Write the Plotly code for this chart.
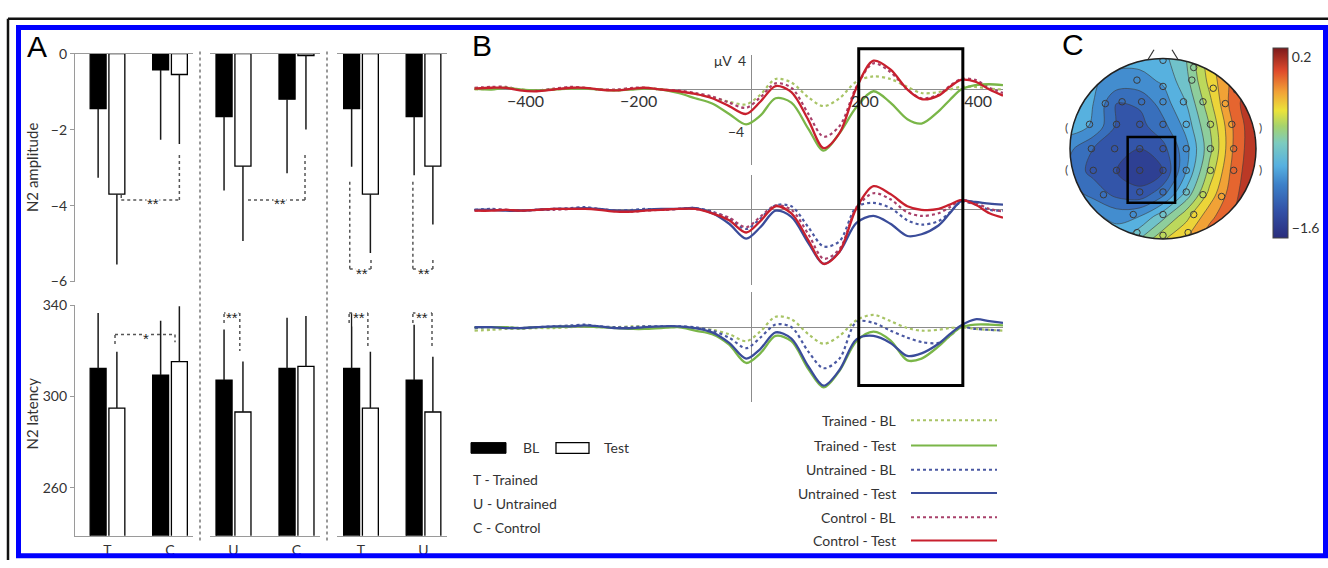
import plotly.graph_objects as go

W, H = 1328, 568
def px(x): return x / W
def py(y): return 1 - y / H

FONT = "Lato"
TXT = "#333333"
AXC = "#9a9a9a"

# ---------------- Panel A data ----------------
amp_cats = [["T", "C"], ["U", "C"], ["T", "U"]]
amp_bl = [[-1.45, -0.43], [-1.66, -1.20], [-1.45, -1.66]]
amp_bl_err = [[1.82, 1.84], [1.94, 1.95], [1.53, 1.54]]
amp_test = [[-3.70, -0.55], [-2.96, -0.05], [-3.70, -2.96]]
amp_test_err = [[1.85, 1.83], [1.97, 1.95], [1.55, 1.54]]
lat_bl = [[312.3, 309.4], [307.2, 312.3], [312.3, 307.2]]
lat_bl_err = [[24.3, 23.8], [22.2, 22.2], [24.3, 24.3]]
lat_test = [[294.9, 315.3], [293.2, 313.2], [294.9, 293.2]]
lat_test_err = [[24.7, 24.3], [22.1, 22.1], [24.7, 24.2]]
amp_ticks = [0, -2, -4, -6]
lat_ticks = [260, 300, 340]

# ---------------- Panel B data ----------------
t_ms = [-490, -460, -435, -410, -380, -350, -320, -295, -270, -240, -210, -190, -160, -130,
        -100, -70, -40, -10, 15, 42, 70, 100, 127, 155, 185, 215, 245, 275, 300, 330, 350,
        370, 395, 420, 444]
b_ticks = [-400, -200, 200, 400]

r1_trained_bl = [0.0, 0.1, 0.2, 0.0, -0.1, 0.0, 0.1, 0.2, 0.0, -0.1, 0.1, 0.2,
                 0.0, -0.2, -0.5, -0.9, -1.4, -1.7, -0.6, 1.2, 0.8, -0.9, -1.9, -1.0, 0.9, 1.5,
                 1.2, 0.3, -0.4, -0.3, 0.0, 0.3, 0.3, 0.1, 0.0]
r1_trained_test = [0.1, 0.0, 0.2, 0.0, -0.1, 0.0, 0.1, 0.1, 0.0, -0.1, 0.0, 0.1,
                   0.0, -0.4, -1.0, -1.6, -2.8, -4.0, -3.0, -1.0, -1.5, -4.5, -7.0, -5.0, -2.0,
                   -0.2, -1.5, -3.4, -3.9, -2.5, -1.2, 0.0, 0.5, 0.6, 0.5]
r1_control_bl = [0.2, 0.3, 0.3, 0.0, -0.1, 0.1, 0.3, 0.2, 0.0, 0.0, 0.2, 0.2,
                 0.0, -0.1, -0.4, -0.8, -1.5, -2.1, -0.9, 0.7, 0.2, -2.8, -5.4, -4.2, 0.3, 3.0,
                 2.0, 0.0, -1.0, -0.6, 0.4, 1.2, 1.1, 0.2, -0.4]
r1_control_test = [0.1, 0.2, 0.2, -0.1, -0.2, 0.0, 0.2, 0.2, 0.0, -0.1, 0.1, 0.2,
                   0.0, -0.2, -0.5, -1.0, -1.9, -2.8, -1.4, 0.4, -0.3, -3.5, -6.7, -5.0, 0.2,
                   3.3, 2.3, 0.0, -1.1, -0.7, 0.3, 1.1, 0.9, 0.0, -0.7]

r2_untrained_bl = [0.0, 0.1, 0.0, -0.1, 0.0, 0.1, 0.2, 0.3, 0.1, -0.1, 0.0, 0.1, 0.0, 0.1,
                   0.2, -0.2, -1.0, -2.2, -1.0, 0.5, 0.4, -2.0, -4.2, -3.6, 0.3, 0.8, 0.2,
                   -1.2, -1.7, -1.3, -0.3, 0.9, 0.6, 0.0, -0.1]
r2_untrained_test = [0.0, 0.0, -0.1, -0.1, 0.0, 0.1, 0.1, 0.2, 0.1, -0.1, -0.1, 0.0, 0.1, 0.1,
                     0.2, -0.4, -1.6, -3.3, -2.0, -0.1, -0.8, -3.8, -6.2, -4.8, -1.5, -0.7,
                     -1.6, -3.0, -2.8, -1.8, -0.4, 1.0, 0.9, 0.7, 0.6]
r2_control_bl = [-0.1, 0.0, 0.0, -0.1, 0.0, 0.0, 0.1, 0.2, 0.1, -0.1, -0.2, -0.1, 0.0, 0.1,
                 0.1, -0.3, -0.9, -2.0, -0.8, 0.5, 0.0, -2.8, -5.6, -4.5, 0.2, 1.9, 1.2,
                 -0.3, -0.7, -0.4, 0.3, 1.1, 0.8, 0.1, -0.2]
r2_control_test = [-0.1, -0.1, 0.0, -0.1, 0.0, 0.1, 0.1, 0.1, 0.0, -0.2, -0.2, -0.1, 0.0, 0.1,
                   0.1, -0.4, -1.2, -2.6, -1.3, 0.4, -0.4, -3.5, -6.2, -4.8, 0.2, 2.7, 1.8,
                   0.4, 0.0, 0.1, 0.6, 1.1, 0.6, -0.4, -0.9]

r3_trained_bl = [-0.4, -0.3, -0.2, -0.2, -0.1, -0.1, 0.0, 0.1, 0.0, 0.0, 0.1, 0.1, 0.0, 0.0,
                 -0.1, -0.3, -0.8, -1.6, -0.5, 1.2, 0.9, -0.8, -1.9, -1.0, 0.8, 1.4, 0.7,
                 -0.1, -0.4, -0.3, -0.1, 0.0, -0.2, -0.3, -0.4]
r3_trained_test = [0.0, 0.0, 0.0, -0.1, 0.0, 0.0, 0.1, 0.1, 0.0, -0.1, -0.2, -0.2, -0.1, 0.0,
                   -0.4, -0.8, -2.0, -4.1, -3.0, -1.0, -1.6, -4.8, -6.9, -5.0, -1.6, -0.5,
                   -1.5, -3.8, -3.6, -2.2, -1.0, 0.0, 0.3, 0.3, 0.2]
r3_untrained_bl = [-0.1, 0.0, 0.0, -0.1, 0.0, 0.1, 0.2, 0.3, 0.1, 0.0, 0.0, 0.1, 0.1, 0.1,
                   0.0, -0.4, -1.2, -2.4, -1.2, 0.3, 0.0, -2.8, -4.7, -3.6, 0.6, 0.5, -0.4,
                   -1.2, -1.7, -1.8, -1.0, 0.0, -0.2, -0.3, -0.4]
r3_untrained_test = [0.0, 0.0, -0.1, -0.1, 0.0, 0.1, 0.1, 0.2, 0.1, -0.1, -0.1, 0.0, 0.1, 0.1,
                     -0.1, -0.6, -1.8, -3.6, -2.5, -0.6, -1.3, -4.5, -6.7, -4.9, -1.4, -1.0,
                     -1.8, -3.3, -3.0, -1.9, -0.8, 0.2, 0.9, 0.7, 0.5]

legend_names = ["Trained - BL", "Trained - Test", "Untrained - BL", "Untrained - Test",
                "Control - BL", "Control - Test"]

# ---------------- Panel C data ----------------
topo_x = [-1, -0.75, -0.5, -0.25, 0, 0.25, 0.5, 0.75, 1]
topo_y = [-1, -0.75, -0.5, -0.25, 0, 0.25, 0.5, 0.75, 1]
topo_z = [
    [-0.92, -0.92, -0.90, -0.70, -0.42, -0.25, 0.00, 0.10, 0.20],
    [-0.95, -0.97, -1.05, -1.00, -0.75, -0.45, -0.15, 0.05, 0.20],
    [-1.08, -1.20, -1.35, -1.40, -1.20, -0.80, -0.35, 0.00, 0.20],
    [-1.20, -1.35, -1.45, -1.55, -1.45, -1.00, -0.50, -0.05, 0.20],
    [-1.12, -1.30, -1.40, -1.45, -1.35, -1.05, -0.60, -0.10, 0.20],
    [-0.92, -1.02, -1.32, -1.35, -1.20, -0.95, -0.55, -0.10, 0.20],
    [-0.90, -1.00, -1.30, -1.28, -1.08, -0.85, -0.45, -0.02, 0.20],
    [-0.95, -0.98, -1.05, -1.05, -0.98, -0.75, -0.35, -0.05, 0.15],
    [-0.95, -0.95, -0.95, -0.95, -0.90, -0.70, -0.30, 0.00, 0.20],
]
elec_x = [0.0, -0.59, 0.33, 0.60, -0.82, -0.28, 0.0, 0.31, 0.54, 0.79,
          -0.62, -0.44, -0.23, 0.0, 0.22, 0.43, 0.67,
          -0.79, -0.50, -0.25, 0.0, 0.25, 0.51, 0.74,
          -0.77, -0.52, -0.25, 0.0, 0.25, 0.51, 0.76,
          -0.75, -0.50, -0.25, 0.0, 0.25, 0.51, 0.76,
          -0.64, -0.25, 0.0, 0.25, 0.43, 0.63,
          -0.32, 0.0, 0.33, -0.28, 0.0, 0.27]
elec_y = [0.98, 0.86, 0.90, 0.86, 0.65, 0.76, 0.69, 0.76, 0.67, 0.65,
          0.50, 0.52, 0.52, 0.52, 0.52, 0.52, 0.50,
          0.27, 0.27, 0.27, 0.27, 0.27, 0.27, 0.27,
          0.0, 0.0, 0.0, 0.0, 0.0, 0.0, 0.0,
          -0.24, -0.24, -0.24, -0.24, -0.24, -0.24, -0.24,
          -0.51, -0.48, -0.48, -0.48, -0.51, -0.53,
          -0.73, -0.73, -0.73, -0.93, -0.96, -0.93]
cb_ticks = [0.2, -1.6]
cb_ticktext = ["0.2", "\u22121.6"]

jet = [[0.0, "#2a2d7c"], [0.14, "#3250a6"], [0.28, "#3c80c8"], [0.38, "#56b0e0"],
       [0.50, "#7ccbbf"], [0.59, "#a6d36c"], [0.67, "#ebe33a"], [0.77, "#f1a136"],
       [0.88, "#df4a2c"], [1.0, "#7c1a1c"]]

fig = go.Figure()
layout = dict(width=W, height=H, margin=dict(l=0, r=0, t=0, b=0),
              paper_bgcolor="white", plot_bgcolor="white", showlegend=False,
              barmode="group", bargap=0.4, bargroupgap=0.15,
              font=dict(family=FONT, color=TXT))
shapes, anns = [], []

def ax(i):
    return "" if i == 1 else str(i)

# ---------------- Panel A ----------------
g_dom = [(75, 193), (210, 320), (337, 447)]
g_rng = [(-0.52, 1.368), (-0.373, 1.373), (-0.384, 1.376)]
TOP_PX, AMP_RANGE = (46, 281), (-6, 0)
BOT_PX, LAT_RANGE = (305, 543), (238.9, 340.2)
err_style = dict(color="#1a1a1a", thickness=1.5, width=0)
for g in range(3):
    it, ib = g + 1, g + 4
    cats = amp_cats[g]
    for vals, errs, col in [(amp_bl[g], amp_bl_err[g], "black"), (amp_test[g], amp_test_err[g], "white")]:
        fig.add_trace(go.Bar(x=cats, y=vals, xaxis="x" + ax(it), yaxis="y" + ax(it),
                             marker=dict(color=col, line=dict(color="black", width=1.3)),
                             error_y=dict(type="data", symmetric=False, array=[0] * len(vals),
                                          arrayminus=errs, **err_style)))
    for vals, errs, col in [(lat_bl[g], lat_bl_err[g], "black"), (lat_test[g], lat_test_err[g], "white")]:
        fig.add_trace(go.Bar(x=cats, y=vals, xaxis="x" + ax(ib), yaxis="y" + ax(ib),
                             marker=dict(color=col, line=dict(color="black", width=1.3)),
                             error_y=dict(type="data", symmetric=False, array=errs,
                                          arrayminus=[0] * len(vals), **err_style)))
    common_x = dict(domain=[px(g_dom[g][0]), px(g_dom[g][1])], range=list(g_rng[g]),
                    type="category", categoryorder="array", categoryarray=cats,
                    showline=True, linecolor=AXC, linewidth=1.2, showgrid=False,
                    zeroline=False, fixedrange=True)
    layout["xaxis" + ax(it)] = dict(common_x, anchor="y" + ax(it), side="top", showticklabels=False,
                                   ticks="")
    layout["xaxis" + ax(ib)] = dict(common_x, anchor="y" + ax(ib), side="bottom",
                                   ticks="outside", ticklen=1, tickcolor="rgba(0,0,0,0)",
                                   tickfont=dict(size=14, color=TXT))
    ytop = dict(domain=[py(TOP_PX[1]), py(TOP_PX[0])], range=list(AMP_RANGE), anchor="x" + ax(it),
                showgrid=False, zeroline=False)
    ybot = dict(domain=[py(BOT_PX[1]), py(BOT_PX[0])], range=list(LAT_RANGE), anchor="x" + ax(ib),
                showgrid=False, zeroline=False)
    if g == 0:
        yext = dict(showline=True, linecolor=AXC, linewidth=1.2, ticks="outside", ticklen=4,
                    tickcolor=AXC, tickfont=dict(size=14, color=TXT))
        ytop.update(yext, tickvals=amp_ticks)
        ybot.update(yext, tickvals=lat_ticks)
    else:
        ytop.update(visible=False)
        ybot.update(visible=False)
    layout["yaxis" + ax(it)] = ytop
    layout["yaxis" + ax(ib)] = ybot

# helpers converting axis values to paper positions (for text labels)
def cat_paper(g, v):
    L, R = g_dom[g]; a, b = g_rng[g]
    return px(L + (v - a) / (b - a) * (R - L))
def val_paper(v, pxr, rng):
    top, bot = pxr; lo, hi = rng
    return py(top + (hi - v) / (hi - lo) * (bot - top))

dot = dict(color="#555555", width=1.5, dash="dot")
def seg(axi, x0, y0, x1, y1):
    shapes.append(dict(type="line", xref="x" + ax(axi), yref="y" + ax(axi),
                       x0=x0, y0=y0, x1=x1, y1=y1, line=dot))
def star(g, top, x, y, s):
    pxr, rng = (TOP_PX, AMP_RANGE) if top else (BOT_PX, LAT_RANGE)
    anns.append(dict(text=s, x=cat_paper(g, x), y=val_paper(y, pxr, rng), xref="paper", yref="paper",
                     showarrow=False, xanchor="center", yanchor="middle",
                     font=dict(size=15, color="#222222", family="Liberation Sans"),
                     bgcolor="white", yshift=-4, borderpad=0))

# amplitude brackets
seg(1, 0.22, -3.72, 0.22, -3.85); seg(1, 0.22, -3.85, 1.15, -3.85); seg(1, 1.15, -3.85, 1.15, -2.6)
star(0, True, 0.73, -3.85, "**")
seg(2, 0.23, -3.85, 1.135, -3.85); seg(2, 1.135, -3.85, 1.135, -2.6)
star(1, True, 0.74, -3.85, "**")
for xl, xr in [(-0.18, 0.16), (0.83, 1.15)]:
    seg(3, xl, -3.37, xl, -5.67); seg(3, xl, -5.67, xr, -5.67); seg(3, xr, -5.67, xr, -5.4)
    star(2, True, (xl + xr) / 2 + 0.02, -5.67, "**")
# latency brackets
seg(4, 0.12, 323.0, 0.12, 327.2); seg(4, 0.12, 327.2, 1.08, 327.2); seg(4, 1.08, 327.2, 1.08, 323.8)
star(0, False, 0.62, 327.2, "*")
seg(5, -0.15, 332.3, -0.15, 336.6); seg(5, -0.15, 336.6, 0.10, 336.6); seg(5, 0.10, 336.6, 0.10, 320.0)
star(1, False, -0.02, 336.6, "**")
for xl, xr in [(-0.19, 0.11), (0.83, 1.136)]:
    seg(6, xl, 332.3, xl, 336.6); seg(6, xl, 336.6, xr, 336.6); seg(6, xr, 336.6, xr, 321.0)
    star(2, False, (xl + xr) / 2, 336.6, "**")

# group dividers
for xd in (200, 327):
    shapes.append(dict(type="line", xref="paper", yref="paper", x0=px(xd), x1=px(xd),
                       y0=py(548), y1=py(42), line=dict(color="#777777", width=1.5, dash="dot")))

def ann(text, x, y, size=14, xanchor="center", angle=0, color=TXT, family=FONT):
    anns.append(dict(text=text, x=px(x), y=py(y), xref="paper", yref="paper", showarrow=False,
                     xanchor=xanchor, yanchor="middle", textangle=angle,
                     font=dict(size=size, color=color, family=family)))

ann("N2 amplitude", 32, 164, size=15, angle=-90)
ann("N2 latency", 32, 417, size=15, angle=-90)
ann("A", 37, 39, size=30, color="black", family="Liberation Sans")
ann("B", 482, 38, size=30, color="black", family="Liberation Sans")
ann("C", 1073, 37, size=30, color="black", family="Liberation Sans")

# A legend
shapes.append(dict(type="rect", xref="paper", yref="paper", x0=px(471), x1=px(506), y0=py(458), y1=py(447),
                   fillcolor="black", line=dict(color="black", width=1)))
shapes.append(dict(type="rect", xref="paper", yref="paper", x0=px(556), x1=px(589), y0=py(458), y1=py(447),
                   fillcolor="white", line=dict(color="black", width=1.3)))
ann("BL", 521, 452, xanchor="left")
ann("Test", 602, 452, xanchor="left")
ann("T - Trained", 471, 485, xanchor="left")
ann("U - Untrained", 471, 510, xanchor="left")
ann("C - Control", 471, 535, xanchor="left")

# ---------------- Panel B ----------------
GREEN_D, GREEN = "#a8c466", "#7ab648"
BLUE_D, BLUE = "#4a58a2", "#3a4c9a"
RED_D, RED = "#a8406a", "#c8202e"
rows = [
    [(r1_trained_bl, GREEN_D, "dot"), (r1_control_bl, RED_D, "dot"),
     (r1_trained_test, GREEN, "solid"), (r1_control_test, RED, "solid")],
    [(r2_untrained_bl, BLUE_D, "dot"), (r2_control_bl, RED_D, "dot"),
     (r2_untrained_test, BLUE, "solid"), (r2_control_test, RED, "solid")],
    [(r3_trained_bl, GREEN_D, "dot"), (r3_untrained_bl, BLUE_D, "dot"),
     (r3_trained_test, GREEN, "solid"), (r3_untrained_test, BLUE, "solid")],
]
row_dom = [(47, 160.4), (171, 284.4), (292, 405.4)]
for r in range(3):
    i = 7 + r
    for vals, col, dash in rows[r]:
        fig.add_trace(go.Scatter(x=t_ms, y=vals, xaxis="x" + ax(i), yaxis="y" + ax(i), mode="lines",
                                 line=dict(color=col, width=2.3 if dash == "solid" else 2.2,
                                           dash=dash, shape="spline", smoothing=0.9),
                                 hoverinfo="skip"))
    xa = dict(domain=[px(474), px(1003)], range=[-491, 444], showgrid=False, showline=False,
              zeroline=True, zerolinecolor="#8c8c8c", zerolinewidth=1, fixedrange=True)
    if r == 0:
        xa.update(anchor="free", position=py(83), tickvals=b_ticks, ticks="",
                  tickfont=dict(size=16, color=TXT))
    else:
        xa.update(anchor="y" + ax(i), showticklabels=False, ticks="")
    layout["xaxis" + ax(i)] = xa
    layout["yaxis" + ax(i)] = dict(domain=[py(row_dom[r][1]), py(row_dom[r][0])], range=[-8.6, 4],
                                   anchor="x" + ax(i), showgrid=False, showline=False,
                                   showticklabels=False, ticks="", zeroline=True,
                                   zerolinecolor="#8c8c8c", zerolinewidth=1, fixedrange=True)

shapes.append(dict(type="rect", xref="x7", yref="paper", x0=189, x1=373, y0=py(388), y1=py(41),
                   line=dict(color="black", width=3)))
ann("\u03bcV", 723, 53)
ann("4", 742, 53)
ann("\u22124", 746, 126, xanchor="right")

# B legend
leg_y = [424, 450, 475, 499, 524, 548]
leg_style = [(GREEN_D, "dot"), (GREEN, "solid"), (BLUE_D, "dot"), (BLUE, "solid"), (RED_D, "dot"), (RED, "solid")]
for name, yy, (col, dash) in zip(legend_names, leg_y, leg_style):
    ann(name, 898, yy, xanchor="right")
    shapes.append(dict(type="line", xref="paper", yref="paper", x0=px(911), x1=px(997),
                       y0=py(yy), y1=py(yy), line=dict(color=col, width=2, dash=dash)))

# ---------------- Panel C ----------------
fig.add_trace(go.Contour(x=topo_x, y=topo_y, z=topo_z, xaxis="x10", yaxis="y10",
                         colorscale=jet, zmin=-1.7, zmax=0.3, showscale=False,
                         contours=dict(start=-1.6, end=0.2, size=0.15, coloring="fill"),
                         line=dict(color="#3a3a3a", width=0.6, smoothing=1.0), hoverinfo="skip"))
fig.add_trace(go.Scatter(x=elec_x, y=elec_y, xaxis="x10", yaxis="y10", mode="markers",
                         marker=dict(symbol="circle-open", size=6.5, color="#3a3a3a", line=dict(width=1)),
                         hoverinfo="skip"))
fig.add_trace(go.Scatter(x=[None], y=[None], xaxis="x10", yaxis="y10", mode="markers",
                         marker=dict(color=[0], colorscale=jet, cmin=-1.7, cmax=0.3, showscale=True,
                                     colorbar=dict(x=px(1273), xanchor="left", y=py(138), yanchor="middle",
                                                   len=190, lenmode="pixels", thickness=15,
                                                   thicknessmode="pixels", outlinewidth=1,
                                                   outlinecolor="#444444", tickvals=cb_ticks,
                                                   ticktext=cb_ticktext, ticks="", xpad=0, ypad=0,
                                                   tickfont=dict(size=14, color=TXT))),
                         hoverinfo="skip"))
HR = 1.04   # axis half-range; head radius is 1 (93 px)
cx, cy, rad = 1163, 144, 93
layout["xaxis10"] = dict(domain=[px(cx - HR * rad), px(cx + HR * rad)], range=[-HR, HR],
                         visible=False, anchor="y10")
layout["yaxis10"] = dict(domain=[py(cy + HR * rad), py(cy - HR * rad)], range=[-HR, HR],
                         visible=False, anchor="x10")

k = 0.5523
circle = (f"M 1,0 C 1,{k} {k},1 0,1 C {-k},1 -1,{k} -1,0 "
          f"C -1,{-k} {-k},-1 0,-1 C {k},-1 1,{-k} 1,0 Z")
mask = f"M {-HR},{-HR} L {HR},{-HR} L {HR},{HR} L {-HR},{HR} Z " + circle
shapes.append(dict(type="path", path=mask, xref="x10", yref="y10", fillcolor="white",
                   fillrule="evenodd", line=dict(width=0)))
shapes.append(dict(type="circle", xref="x10", yref="y10", x0=-1, x1=1, y0=-1, y1=1,
                   line=dict(color="#222222", width=1.5)))
shapes.append(dict(type="rect", xref="x10", yref="y10", x0=-0.38, x1=0.13, y0=-0.60, y1=0.13,
                   line=dict(color="black", width=2.5)))
# nose and ear marks
shapes.append(dict(type="line", xref="paper", yref="paper", x0=px(1148), x1=px(1154), y0=py(52), y1=py(42),
                   line=dict(color="#333", width=1.2)))
shapes.append(dict(type="line", xref="paper", yref="paper", x0=px(1172), x1=px(1178), y0=py(42), y1=py(52),
                   line=dict(color="#333", width=1.2)))
for ex, ey, ch in [(1066, 122, "("), (1066, 165, "("), (1260, 122, ")"), (1260, 165, ")")]:
    ann(ch, ex, ey, size=12, color="#444444")

# ---------------- Frame ----------------
shapes.append(dict(type="line", xref="paper", yref="paper", x0=px(8), x1=1, y0=py(10), y1=py(10),
                   line=dict(color="#111111", width=2.5)))
shapes.append(dict(type="line", xref="paper", yref="paper", x0=px(8), x1=px(8), y0=0, y1=py(10),
                   line=dict(color="#111111", width=2.5)))
shapes.append(dict(type="rect", xref="paper", yref="paper", x0=px(18.5), x1=px(1325.5),
                   y0=py(563.5), y1=py(19), line=dict(color="#0000ff", width=5)))

layout["shapes"] = shapes
layout["annotations"] = anns
fig.update_layout(**layout)
fig.write_html("out.html")
